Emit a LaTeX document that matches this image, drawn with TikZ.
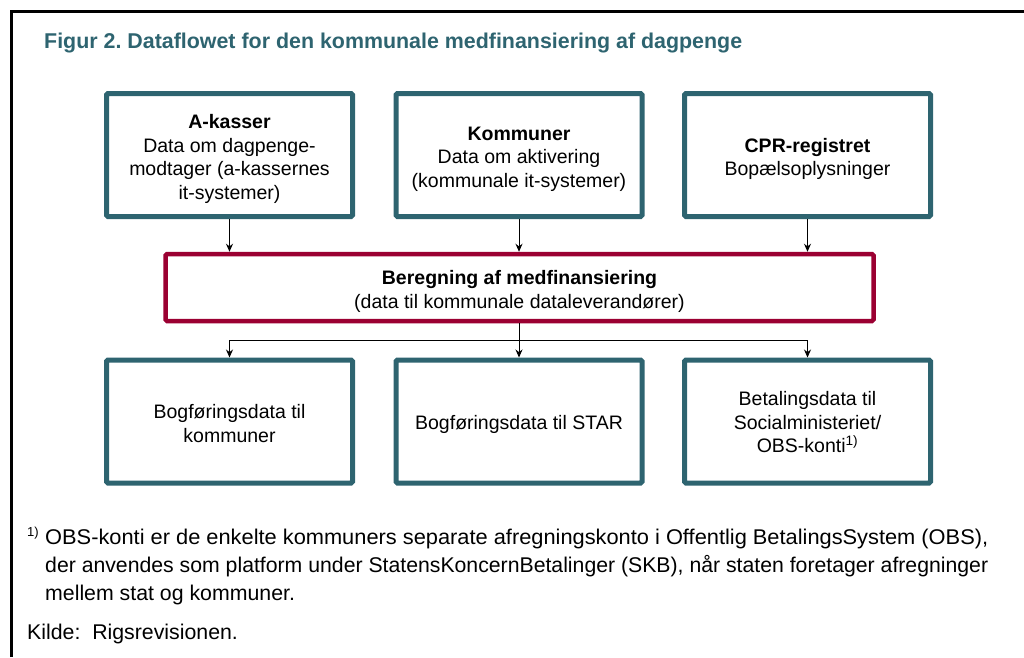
\documentclass[tikz,border=0pt]{standalone}
\usepackage{fontspec}
\usepackage{graphicx}
\setmainfont{Liberation Sans}
\usetikzlibrary{arrows.meta}
\definecolor{teal}{HTML}{2E6470}
\definecolor{wine}{HTML}{9B0032}
\frenchspacing
\begin{document}
\begin{tikzpicture}[x=1pt,y=-1pt,
  tbox/.style={draw=teal,line width=5pt,rounded corners=1.5pt,minimum width=246pt,minimum height=123pt,inner sep=0pt},
  rbox/.style={draw=wine,line width=4.5pt,rounded corners=1.5pt,minimum width=708pt,minimum height=67pt,inner sep=0pt},
  btxt/.style={align=center,inner sep=0pt,font=\fontsize{19.5}{23.5}\selectfont},
  arr/.style={-{Stealth[length=8pt,width=7pt]},line width=1pt},
  conn/.style={line width=1pt},
  txt/.style={anchor=base west,inner sep=0pt,font=\fontsize{21.3}{25}\selectfont}]
\useasboundingbox (0,0) rectangle (1024,657);
\draw[line width=2.5pt] (11.5,657) -- (11.5,11.5) -- (1024,11.5);
\node[anchor=base west,inner sep=0pt,text=teal,font=\fontsize{21.4}{25}\selectfont\bfseries] (title) at (44,48) {Figur 2. Dataflowet for den kommunale medfinansiering af dagpenge};
\node[tbox] (a1) at (229.5,155) {};
\node[tbox] (a2) at (519,155) {};
\node[tbox] (a3) at (807.5,155) {};
\node[rbox] (r) at (519.5,287.5) {};
\node[tbox] (b1) at (229.5,421.5) {};
\node[tbox] (b2) at (519,421.5) {};
\node[tbox] (b3) at (807.5,421.5) {};
\node[btxt] (a1t) at ([yshift=-4pt]a1.center) {\textbf{A-kasser}\\Data om dagpenge-\\modtager (a-kassernes\\it-systemer)};
\node[btxt] (a2t) at ([yshift=-4pt]a2.center) {\textbf{Kommuner}\\Data om aktivering\\(kommunale it-systemer)};
\node[btxt] (a3t) at ([yshift=-4pt]a3.center) {\textbf{CPR-registret}\\Bopælsoplysninger};
\node[btxt] (rt) at ([yshift=-4pt]r.center) {\textbf{Beregning af medfinansiering}\\(data til kommunale dataleverandører)};
\node[btxt] (b1t) at ([yshift=-2pt]b1.center) {Bogføringsdata til\\kommuner};
\node[btxt] (b2t) at ([yshift=-3pt]b2.center) {Bogføringsdata til STAR};
\node[btxt] (b3t) at ([yshift=-1pt]b3.center) {Betalingsdata til\\Socialministeriet/\\OBS-konti\textsuperscript{1)}};
\draw[arr] (a1.south) -- (a1.south |- r.north);
\draw[arr] (a2.south) -- (a2.south |- r.north);
\draw[arr] (a3.south) -- (a3.south |- r.north);
\coordinate (j) at (519,340);
\draw[arr] (r.south -| b2.north) -- (b2.north);
\draw[conn] (b1.north |- j) -- (b3.north |- j);
\draw[arr] (b1.north |- j) -- (b1.north);
\draw[arr] (b3.north |- j) -- (b3.north);
\node[anchor=base west,inner sep=0pt,font=\fontsize{13}{15}\selectfont] (fnm) at (27,536) {1)};
\node[txt] (fn1) at (45,544) {\resizebox{943pt}{\height}{OBS-konti er de enkelte kommuners separate afregningskonto i Offentlig BetalingsSystem (OBS),}};
\node[txt] (fn2) at (45,572) {\resizebox{943pt}{\height}{der anvendes som platform under StatensKoncernBetalinger (SKB), når staten foretager afregninger}};
\node[txt] (fn3) at (45,600) {mellem stat og kommuner.};
\node[txt] (src) at (27,639) {Kilde:\ \ Rigsrevisionen.};
\end{tikzpicture}
\end{document}
